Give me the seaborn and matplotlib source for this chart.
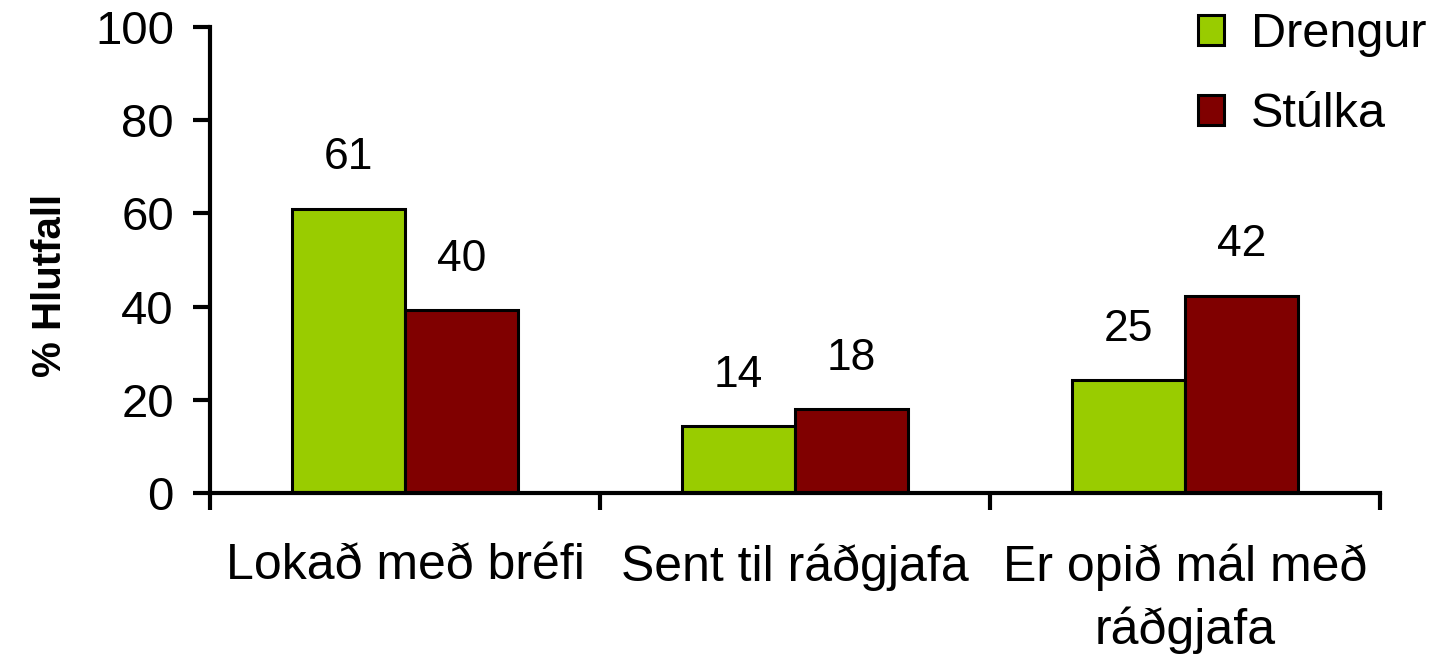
import pandas as pd
import matplotlib.pyplot as plt
import seaborn as sns

# Data
categories = ["Lokað með bréfi", "Sent til ráðgjafa", "Er opið mál með\nráðgjafa"]
groups = ["Drengur", "Stúlka"]
drengur = [61.0, 14.3, 24.2]
stulka = [39.2, 18.0, 42.3]
drengur_labels = ["61", "14", "25"]
stulka_labels = ["40", "18", "42"]
colors = ["#99CC00", "#800000"]

df = pd.DataFrame({
    "category": categories * 2,
    "group": [groups[0]] * 3 + [groups[1]] * 3,
    "value": drengur + stulka,
})

sns.set_style("white")
plt.rcParams["font.family"] = ["Liberation Sans", "DejaVu Sans"]
plt.rcParams["text.color"] = "black"
plt.rcParams["axes.labelcolor"] = "black"
plt.rcParams["xtick.color"] = "black"
plt.rcParams["ytick.color"] = "black"
plt.rcParams["axes.edgecolor"] = "black"

FS = 34

fig, ax = plt.subplots(figsize=(14.33, 6.55), dpi=100)
fig.subplots_adjust(left=0.1466, right=0.963, top=0.9588, bottom=0.2473)

sns.barplot(
    data=df, x="category", y="value", hue="group",
    palette=colors, width=0.58, edgecolor="black", linewidth=2.2,
    saturation=1, ax=ax,
)

# value labels above bars
label_lists = [drengur_labels, stulka_labels]
for container, labels in zip(ax.containers, label_lists):
    for bar, lab in zip(container, labels):
        ax.annotate(
            lab, (bar.get_x() + bar.get_width() / 2, bar.get_height()),
            xytext=(0, 22), textcoords="offset points",
            ha="center", va="bottom", fontsize=FS - 2,
        )

ax.set_ylim(0, 100)
ax.set_xlim(-0.5, 2.5)
ax.set_yticks([0, 20, 40, 60, 80, 100])
ax.set_xlabel("")
ax.set_ylabel("% Hlutfall", fontsize=29, fontweight="bold")
ax.yaxis.set_label_coords(-0.121, 0.445)

for side in ["top", "right"]:
    ax.spines[side].set_visible(False)
for side in ["left", "bottom"]:
    ax.spines[side].set_linewidth(3)

ax.tick_params(axis="y", which="major", direction="out", length=12, width=3,
               labelsize=FS, pad=14, left=True)
ax.tick_params(axis="x", which="major", length=0, labelsize=36, pad=36)
ax.set_xticks([-0.5, 0.5, 1.5, 2.5], minor=True)
ax.tick_params(axis="x", which="minor", direction="out", length=12, width=3,
               bottom=True)
for t in ax.get_xticklabels():
    t.set_linespacing(1.42)

ax.legend(
    loc="upper right", bbox_to_anchor=(1.026, 1.048), bbox_transform=fig.transFigure,
    frameon=False, fontsize=35, handlelength=0.55, handleheight=0.55,
    handletextpad=0.55, labelspacing=0.72,
)

fig.savefig("out.png", dpi=100)
